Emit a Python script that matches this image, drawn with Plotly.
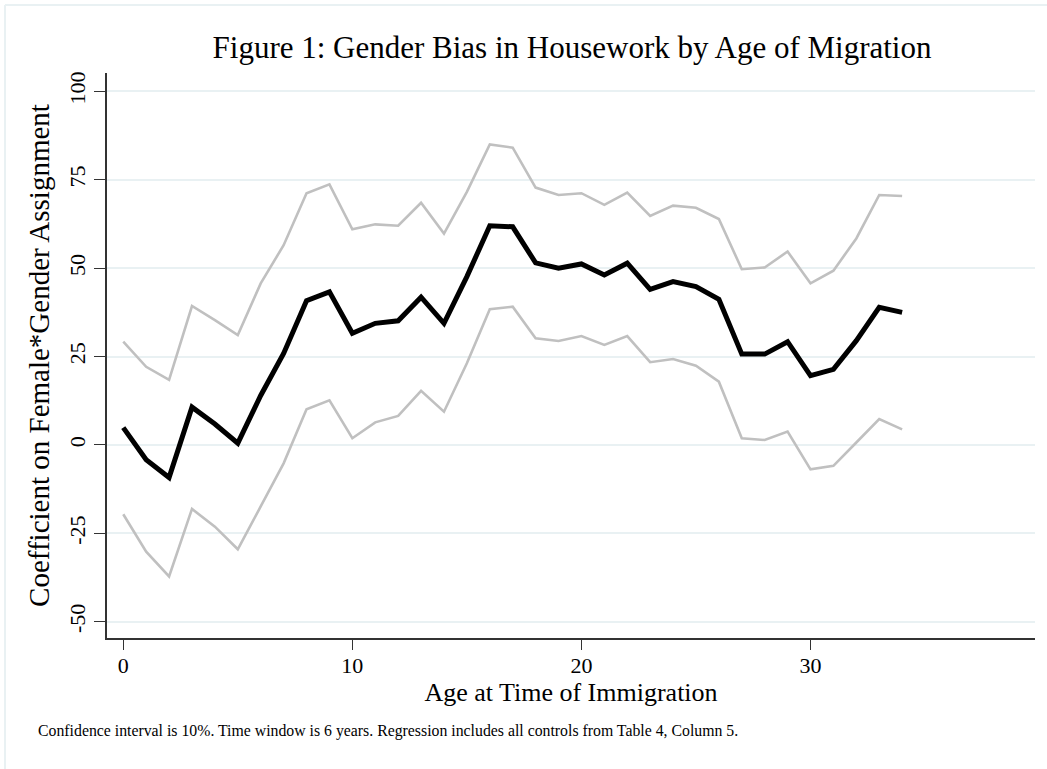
import plotly.graph_objects as go

age = list(range(35))
coef = [4.9, -4.2, -9.2, 10.7, 5.9, 0.5, 14.0, 25.9, 40.8, 43.3,
        31.6, 34.4, 35.1, 41.8, 34.4, 47.6, 62.0, 61.7, 51.5, 50.0,
        51.2, 48.1, 51.4, 44.0, 46.2, 44.8, 41.2, 25.7, 25.7, 29.2,
        19.6, 21.4, 29.5, 38.9, 37.5]
upper = [29.2, 22.1, 18.4, 39.3, 35.3, 31.1, 45.7, 56.5, 71.2, 73.7,
         61.0, 62.4, 62.0, 68.5, 59.8, 71.6, 85.0, 84.1, 72.8, 70.7,
         71.2, 67.9, 71.4, 64.8, 67.7, 67.1, 63.9, 49.7, 50.2, 54.7,
         45.7, 49.3, 58.4, 70.7, 70.4]
lower = [-19.6, -30.2, -37.2, -18.1, -23.1, -29.5, -17.4, -5.2, 10.1, 12.6,
         1.9, 6.4, 8.2, 15.3, 9.4, 23.1, 38.4, 39.1, 30.2, 29.4,
         30.8, 28.3, 30.8, 23.4, 24.3, 22.4, 17.9, 1.9, 1.4, 3.8,
         -6.9, -5.9, 0.7, 7.3, 4.4]
x_ticks = [0, 10, 20, 30]
y_ticks = [-50, -25, 0, 25, 50, 75, 100]

FONT = "Liberation Serif"
GRID = "#e9f1f3"

fig = go.Figure()
fig.add_trace(go.Scatter(x=age, y=upper, mode="lines",
                         line=dict(color="#c0c0c0", width=2.6), showlegend=False))
fig.add_trace(go.Scatter(x=age, y=lower, mode="lines",
                         line=dict(color="#c0c0c0", width=2.6), showlegend=False))
fig.add_trace(go.Scatter(x=age, y=coef, mode="lines",
                         line=dict(color="black", width=5), showlegend=False))

L, R, T, B = 107, 12, 73, 131
W, H = 1047, 769
pw, ph = W - L - R, H - T - B

def px2paper_x(px):
    return (px - L) / pw

def px2paper_y(py):
    return (H - B - py) / ph

fig.add_hline(y=0, line=dict(color="#c8102e", width=2), layer="below")

shapes = [
    dict(type="line", xref="paper", yref="paper",
         x0=px2paper_x(5), x1=px2paper_x(1047), y0=px2paper_y(5), y1=px2paper_y(5),
         line=dict(color=GRID, width=2)),
    dict(type="line", xref="paper", yref="paper",
         x0=px2paper_x(5), x1=px2paper_x(5), y0=px2paper_y(5), y1=px2paper_y(769),
         line=dict(color=GRID, width=2)),
]
for s in shapes:
    fig.add_shape(**s)

fig.update_layout(
    width=W, height=H,
    margin=dict(l=L, r=R, t=T, b=B, autoexpand=False),
    paper_bgcolor="white", plot_bgcolor="white",
    font=dict(family=FONT, color="black"),
    title=dict(text="Figure 1: Gender Bias in Housework by Age of Migration",
               x=572 / W, xanchor="center",
               y=1 - 47 / H, yanchor="middle",
               font=dict(family=FONT, size=31, color="black")),
    xaxis=dict(range=[-0.71, 39.8], tickvals=x_ticks, ticktext=[str(v) for v in x_ticks],
               showgrid=False, zeroline=False, showline=True, linecolor="#333333",
               linewidth=1.5, ticks="outside", ticklen=10, tickwidth=1.3, tickcolor="#333333",
               tickfont=dict(size=22, family=FONT), automargin=False,
               ticklabelstandoff=-3,
               title=dict(text="Age at Time of Immigration", standoff=0,
                          font=dict(size=26, family=FONT))),
    yaxis=dict(range=[-54.6, 105.2], tickvals=y_ticks, ticktext=[str(v) for v in y_ticks],
               showgrid=True, gridcolor=GRID, gridwidth=1.5, zeroline=False,
               showline=True, linecolor="#333333", linewidth=1.5,
               ticks="outside", ticklen=11, tickwidth=1.3, tickcolor="#333333",
               tickangle=-90, tickfont=dict(size=22, family=FONT), automargin=False,
               title=dict(text="Coefficient on Female*Gender Assignment", standoff=7,
                          font=dict(size=29, family=FONT))),
)

fig.add_annotation(
    text="Confidence interval is 10%. Time window is 6 years. Regression includes all controls from Table 4, Column 5.",
    xref="paper", yref="paper", x=px2paper_x(36), y=px2paper_y(731),
    xanchor="left", yanchor="middle", showarrow=False,
    font=dict(family=FONT, size=15.8, color="black"))

fig.write_html("out.html", config={"displayModeBar": False},
               post_script="document.body.style.margin='0';document.body.style.overflow='hidden';")
